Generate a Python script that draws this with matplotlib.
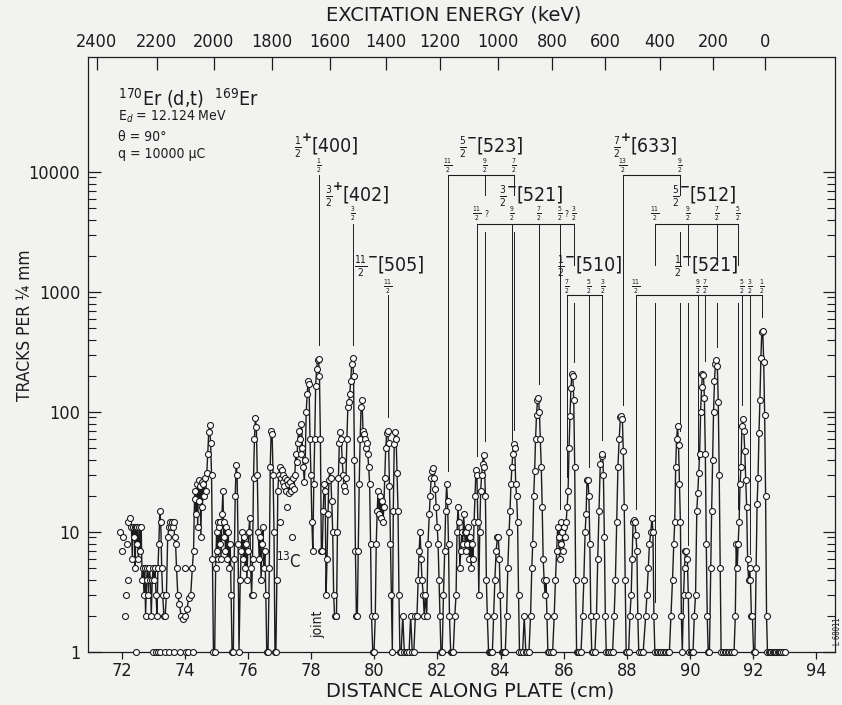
import numpy as np
import matplotlib
matplotlib.use("Agg")
import matplotlib.pyplot as plt
from matplotlib.ticker import FixedLocator, NullFormatter

plt.rcParams['font.family'] = ['DejaVu Sans']
plt.rcParams['font.stretch'] = 'condensed'
plt.rcParams['mathtext.fontset'] = 'dejavusans'

bg = '#f2f2f0'
ink = '#1c1c1c'

# spectrum: (distance cm, tracks per 1/4 mm), zero shown at 1
run_a = [(72.30, 11), (72.33, 6), (72.35, 11), (72.38, 9), (72.40, 11), (72.42, 5), (72.44, 11),
         (72.47, 8), (72.49, 11), (72.52, 6), (72.55, 11), (72.58, 7), (72.61, 11), (72.64, 4),
         (72.67, 5), (72.70, 3), (72.72, 5), (72.75, 2), (72.78, 4), (72.81, 5), (72.84, 3),
         (72.87, 5), (72.90, 4), (72.93, 2), (72.96, 4), (72.99, 5), (73.02, 4), (73.05, 5),
         (73.08, 3), (73.11, 2), (73.14, 5), (73.17, 8), (73.20, 15), (73.23, 12), (73.26, 5),
         (73.29, 3), (73.33, 2), (73.37, 2), (73.41, 3), (73.45, 9), (73.49, 11), (73.52, 12),
         (73.55, 11), (73.58, 12), (73.61, 11), (73.64, 12), (73.67, 9), (73.70, 8), (73.73, 5),
         (73.77, 3), (73.82, 2.5), (73.88, 2), (73.94, 1.9), (74.00, 2), (74.06, 2.3), (74.12, 2.8),
         (74.18, 3), (74.23, 5), (74.27, 7), (74.30, 19), (74.33, 22), (74.35, 14), (74.38, 25),
         (74.40, 11), (74.43, 27), (74.45, 18), (74.48, 24), (74.50, 9), (74.53, 26), (74.55, 16),
         (74.58, 25), (74.60, 20), (74.63, 28), (74.66, 22), (74.69, 31), (74.72, 45), (74.75, 68),
         (74.78, 78), (74.81, 55), (74.84, 30), (74.87, 6), (74.90, 1)]
run_b = [(74.94, 1), (74.97, 5), (75.00, 10), (75.02, 7), (75.04, 12), (75.06, 6), (75.08, 11),
         (75.10, 8), (75.12, 12), (75.14, 6), (75.17, 14), (75.20, 22), (75.23, 9), (75.25, 12),
         (75.28, 7), (75.31, 11), (75.34, 6), (75.37, 10), (75.40, 5), (75.43, 8), (75.46, 3),
         (75.49, 1), (75.53, 1), (75.56, 6), (75.59, 20), (75.62, 36), (75.65, 30), (75.68, 8),
         (75.71, 1), (75.75, 4), (75.78, 7), (75.81, 10), (75.84, 6), (75.87, 9), (75.90, 5),
         (75.93, 8), (75.96, 4), (75.99, 7), (76.02, 10), (76.05, 13), (76.08, 5), (76.11, 3),
         (76.14, 6), (76.17, 28), (76.20, 60), (76.23, 89), (76.26, 75), (76.29, 30), (76.32, 10),
         (76.35, 6), (76.38, 9), (76.41, 4), (76.44, 8), (76.47, 11), (76.50, 5), (76.53, 7),
         (76.56, 3), (76.59, 1), (76.63, 1), (76.67, 5), (76.70, 35), (76.73, 70), (76.76, 65),
         (76.79, 30), (76.82, 10), (76.85, 1), (76.88, 1)]
run_c = [(76.91, 4), (76.94, 22), (76.97, 30), (77.00, 35), (77.03, 28), (77.06, 33), (77.09, 26),
         (77.12, 30), (77.15, 24), (77.18, 28), (77.21, 22), (77.24, 27), (77.27, 25), (77.30, 21),
         (77.33, 26), (77.36, 22), (77.39, 24), (77.42, 28), (77.45, 23), (77.48, 30), (77.51, 45),
         (77.54, 38), (77.57, 55), (77.60, 70), (77.63, 60), (77.66, 45), (77.69, 80), (77.72, 50),
         (77.75, 35), (77.78, 26), (77.81, 40), (77.84, 100), (77.87, 140), (77.90, 180),
         (77.93, 170), (77.96, 60), (77.99, 30), (78.02, 12), (78.05, 7), (78.08, 25), (78.11, 60),
         (78.14, 165), (78.17, 230), (78.20, 270), (78.23, 277), (78.26, 200), (78.29, 60),
         (78.32, 7), (78.35, 7), (78.38, 15), (78.41, 25), (78.44, 22), (78.47, 3), (78.50, 6),
         (78.53, 14), (78.56, 27), (78.59, 33), (78.62, 28), (78.65, 18), (78.68, 10), (78.71, 3),
         (78.74, 2), (78.77, 2), (78.80, 2), (78.83, 10), (78.86, 28), (78.89, 55), (78.92, 68),
         (78.95, 60), (78.98, 40), (79.01, 30), (79.04, 24), (79.07, 22), (79.10, 28), (79.13, 60),
         (79.16, 110), (79.19, 120), (79.22, 140), (79.25, 180), (79.28, 250), (79.31, 280),
         (79.34, 200), (79.37, 40), (79.40, 7), (79.43, 2), (79.46, 2), (79.49, 7), (79.52, 25),
         (79.55, 60), (79.58, 110), (79.61, 125), (79.64, 70), (79.67, 65), (79.70, 60), (79.73, 50),
         (79.76, 55), (79.79, 45), (79.82, 35), (79.85, 25), (79.88, 8), (79.91, 2), (79.95, 1),
         (79.99, 1)]
run_d = [(80.03, 2), (80.06, 8), (80.09, 15), (80.12, 22), (80.15, 14), (80.18, 20), (80.21, 13),
         (80.24, 18), (80.27, 12), (80.30, 16), (80.33, 28), (80.36, 50), (80.39, 67), (80.42, 70),
         (80.45, 55), (80.48, 24), (80.51, 8), (80.54, 3), (80.57, 1), (80.60, 15), (80.63, 54),
         (80.66, 68), (80.69, 60), (80.72, 31), (80.75, 15), (80.78, 3), (80.81, 1), (80.85, 1),
         (80.90, 2), (80.95, 1), (81.00, 1), (81.05, 1), (81.10, 1), (81.15, 2), (81.20, 1),
         (81.25, 1), (81.30, 2), (81.35, 2), (81.39, 4), (81.42, 7), (81.45, 10), (81.48, 6),
         (81.51, 4), (81.55, 3), (81.58, 2), (81.62, 3), (81.66, 2), (81.70, 8), (81.74, 14),
         (81.77, 20), (81.80, 28), (81.84, 32), (81.87, 34), (81.90, 28), (81.93, 23), (81.96, 16),
         (81.99, 11), (82.02, 8), (82.05, 4), (82.08, 2), (82.11, 1), (82.15, 1), (82.19, 3),
         (82.23, 7), (82.26, 15), (82.29, 25), (82.32, 18), (82.35, 8), (82.38, 2), (82.42, 1),
         (82.46, 1), (82.50, 1), (82.55, 2), (82.59, 3), (82.62, 10), (82.65, 16), (82.68, 12),
         (82.71, 5), (82.74, 7), (82.77, 10), (82.80, 8), (82.83, 14), (82.86, 10), (82.89, 7),
         (82.92, 10), (82.95, 8), (82.98, 11), (83.01, 6), (83.04, 9), (83.07, 5), (83.10, 8),
         (83.13, 6), (83.16, 12), (83.19, 20), (83.22, 33), (83.25, 30), (83.28, 12), (83.31, 3),
         (83.34, 10), (83.37, 22), (83.40, 30), (83.43, 37), (83.46, 44), (83.49, 35), (83.52, 20),
         (83.55, 4), (83.58, 2), (83.62, 1), (83.66, 1), (83.70, 1), (83.74, 1), (83.78, 2),
         (83.82, 4), (83.86, 7), (83.90, 9), (83.93, 9), (83.96, 6), (83.99, 3)]
run_e = [(84.03, 1), (84.07, 1), (84.11, 1), (84.15, 1), (84.19, 2), (84.23, 5), (84.27, 10),
         (84.30, 15), (84.33, 25), (84.36, 35), (84.39, 45), (84.42, 54), (84.45, 50), (84.48, 25),
         (84.51, 20), (84.54, 12), (84.57, 3), (84.60, 1), (84.65, 1), (84.70, 1), (84.75, 2),
         (84.80, 1), (84.85, 1), (84.90, 1), (84.95, 2), (84.99, 5), (85.02, 8), (85.05, 20),
         (85.08, 32), (85.11, 60), (85.14, 95), (85.17, 125), (85.20, 131), (85.23, 100),
         (85.26, 60), (85.29, 35), (85.32, 16), (85.35, 6), (85.38, 4), (85.41, 3), (85.44, 4),
         (85.47, 2), (85.50, 1), (85.55, 1), (85.60, 1), (85.65, 1), (85.70, 2), (85.74, 4),
         (85.78, 7), (85.81, 11), (85.84, 9), (85.87, 6), (85.90, 8), (85.93, 12), (85.96, 10),
         (85.99, 7), (86.02, 11), (86.05, 9), (86.08, 12), (86.11, 16), (86.14, 22), (86.17, 50),
         (86.20, 93), (86.23, 157), (86.26, 207), (86.29, 200), (86.32, 125), (86.35, 35),
         (86.38, 4), (86.41, 1), (86.45, 1), (86.50, 1), (86.55, 1), (86.60, 2), (86.64, 4),
         (86.68, 10), (86.71, 14), (86.74, 27), (86.77, 27), (86.80, 20), (86.83, 8), (86.86, 2),
         (86.89, 1), (86.94, 1), (86.99, 1), (87.04, 2), (87.08, 6), (87.12, 15), (87.16, 37),
         (87.20, 43), (87.23, 45), (87.26, 30), (87.29, 9), (87.32, 2), (87.35, 1), (87.40, 1),
         (87.45, 1), (87.50, 1), (87.55, 1), (87.60, 2), (87.64, 4), (87.68, 12), (87.72, 35),
         (87.76, 60), (87.80, 91), (87.83, 92), (87.86, 88), (87.89, 47), (87.92, 16), (87.95, 4),
         (87.98, 1)]
run_f = [(88.02, 1), (88.06, 1), (88.10, 2), (88.14, 3), (88.17, 6), (88.20, 12), (88.23, 12.5),
         (88.26, 12), (88.29, 9.5), (88.32, 7), (88.35, 2), (88.38, 1), (88.45, 1), (88.52, 1),
         (88.60, 2), (88.64, 3), (88.68, 5), (88.72, 8), (88.76, 10), (88.80, 13), (88.83, 10),
         (88.86, 2), (88.89, 1), (88.95, 1), (89.00, 1), (89.05, 1), (89.10, 1), (89.15, 1),
         (89.20, 1), (89.25, 1), (89.30, 1), (89.35, 1), (89.40, 2), (89.45, 4), (89.49, 8),
         (89.52, 12), (89.55, 35), (89.58, 60), (89.61, 76), (89.64, 53), (89.67, 25), (89.70, 12),
         (89.73, 2), (89.76, 1), (89.80, 3), (89.83, 5), (89.86, 7), (89.89, 7), (89.92, 6),
         (89.95, 3), (89.98, 1), (90.02, 1), (90.06, 1), (90.10, 1), (90.14, 2), (90.18, 3),
         (90.22, 15), (90.25, 21), (90.28, 31), (90.31, 45), (90.34, 100), (90.37, 160),
         (90.40, 207), (90.43, 205), (90.46, 130), (90.49, 45), (90.52, 8), (90.55, 2), (90.58, 1),
         (90.62, 1), (90.66, 5), (90.69, 15), (90.72, 40), (90.75, 100), (90.78, 182), (90.81, 250),
         (90.84, 270), (90.87, 240), (90.90, 120), (90.93, 30), (90.96, 5), (90.99, 1), (91.05, 1),
         (91.10, 1), (91.15, 1), (91.20, 1), (91.25, 1), (91.30, 1), (91.35, 1), (91.40, 1),
         (91.44, 2), (91.47, 8), (91.50, 5), (91.53, 8), (91.56, 12), (91.59, 25), (91.62, 35),
         (91.65, 76), (91.68, 88), (91.71, 70), (91.74, 47), (91.77, 27), (91.80, 16), (91.83, 6),
         (91.86, 4), (91.89, 5), (91.92, 4), (91.95, 2), (91.98, 2), (92.02, 1), (92.06, 1),
         (92.10, 5), (92.13, 17), (92.16, 28), (92.19, 67), (92.22, 125), (92.25, 280),
         (92.28, 465), (92.31, 475), (92.34, 260), (92.37, 95), (92.40, 20), (92.43, 2), (92.46, 1),
         (92.50, 1), (92.54, 1), (92.58, 1), (92.62, 1), (92.66, 1), (92.70, 1), (92.74, 1),
         (92.78, 1), (92.82, 1), (92.86, 1), (92.90, 1), (92.95, 1), (93.00, 1)]

# isolated readings not joined by the curve
loose = [(71.94, 10), (71.99, 7), (72.02, 9), (72.10, 2), (72.13, 3), (72.15, 8), (72.20, 12),
         (72.25, 13), (72.20, 4), (72.44, 1), (73.00, 1), (73.08, 1), (73.13, 1), (73.20, 1),
         (73.35, 1), (73.50, 1), (73.65, 1), (73.85, 1), (74.00, 5), (74.03, 1), (74.10, 1),
         (74.25, 1), (76.14, 3), (77.01, 12), (77.22, 16), (77.38, 9)]

# upper scale: excitation energy (keV) and where it falls on the plate (cm)
energy_keV = [2400, 2200, 2000, 1800, 1600, 1400, 1200, 1000, 800, 600, 400, 200, 0]
energy_cm = [71.20, 73.10, 74.91, 76.75, 78.59, 80.36, 82.08, 83.92, 85.63, 87.31, 89.04, 90.74, 92.38]

# Nilsson band assignments
row_label = [16600, 6450, 1680]
row_frac = [11300, 4450, 1110]
row_bar = [9350, 3690, 935]
row_resume = [None, 3160, 815]

band_name = ['[400]', '[523]', '[633]', '[402]', '[521]', '[512]', '[505]', '[510]', '[521]']
band_head = ['1/2+', '5/2-', '7/2+', '3/2+', '3/2-', '5/2-', '11/2-', '1/2-', '1/2-']
band_row = [0, 0, 0, 1, 1, 1, 2, 2, 2]
band_anchor = [78.02, 83.25, 88.13, 79.00, 84.51, 90.00, 80.11, 86.36, 90.06]
band_levels = [[78.24], [82.32, 83.51, 84.44], [87.89, 89.69], [79.31],
               [83.24, 84.35, 85.22, 85.88, 86.34], [88.89, 89.95, 90.87, 91.51], [80.44],
               [86.09, 86.81, 87.23], [88.29, 90.25, 90.48, 91.64, 91.90, 92.29]]
band_spins = [['1/2'], ['11/2', '9/2', '7/2'], ['13/2', '9/2'], ['3/2'],
              ['11/2', '9/2', '7/2', '5/2', '3/2'], ['11/2', '9/2', '7/2', '5/2'], ['11/2'],
              ['7/2', '5/2', '3/2'], ['11/2', '9/2', '7/2', '5/2', '3/2', '1/2']]
doubtful = [83.55, 86.10]


def frac(s):
    n, d = s.split('/')
    return r'$\frac{%s}{%s}$' % (n, d)


spectrum = run_a + run_b + run_c + run_d + run_e + run_f
pos = np.array([p for p, t in spectrum])
trk = np.array([t for p, t in spectrum])

fig = plt.figure(figsize=(8.42, 7.05), dpi=100, facecolor=bg)
ax = fig.add_axes([0.1051, 0.0752, 0.8866, 0.8440], facecolor=bg)
ax.set_yscale('log')
ax.set_xlim(70.94, 94.6)
ax.set_ylim(1, 90800)

ax.plot(pos, trk, '-o', color=ink, lw=1.0, ms=4.3, mfc='white', mec=ink, mew=0.8,
        clip_on=False, zorder=3)
ax.plot([p for p, t in loose], [t for p, t in loose], 'o', ms=4.3, mfc='white', mec=ink,
        mew=0.8, clip_on=False, zorder=3)

for sp in ax.spines.values():
    sp.set_linewidth(0.9)
    sp.set_color(ink)

ax.set_xticks(range(72, 95, 2))
ax.tick_params(axis='x', which='major', direction='out', length=5, width=0.9,
               labelsize=13, pad=2, colors=ink)
ax.set_yticks([1, 10, 100, 1000, 10000], labels=['1', '10', '100', '1000', '10000'])
ax.yaxis.set_minor_locator(FixedLocator([m * 10 ** d for d in range(4) for m in range(2, 10)]))
ax.yaxis.set_minor_formatter(NullFormatter())
ax.tick_params(axis='y', which='major', direction='in', length=9, width=0.9, right=True,
               labelsize=13, pad=6, colors=ink)
ax.tick_params(axis='y', which='minor', direction='in', length=5.5, width=0.8, right=True,
               colors=ink)

top = ax.twiny()
top.set_xlim(ax.get_xlim())
top.set_xticks(energy_cm, labels=[str(e) for e in energy_keV])
top.tick_params(direction='in', length=9, width=0.9, labelsize=13, pad=4, colors=ink)
for sp in top.spines.values():
    sp.set_visible(False)

fig.text(0.539, 0.979, 'EXCITATION ENERGY (keV)', ha='center', va='center', fontsize=14,
         fontstretch='normal', color=ink)
fig.text(0.558, 0.020, 'DISTANCE ALONG PLATE (cm)', ha='center', va='center', fontsize=14,
         fontstretch='normal', color=ink)
fig.text(0.030, 0.539, 'TRACKS PER \u00bc mm', rotation=90, ha='center', va='center',
         fontsize=12.5, color=ink)
fig.text(0.995, 0.105, 'L 68011', rotation=90, ha='center', va='center', fontsize=5.5, color=ink)

ax.text(0.0395, 0.931, r'$^{170}$Er (d,t)  $^{169}$Er', transform=ax.transAxes,
        fontsize=14, va='center', color=ink)
ax.text(0.0395, 0.899, r'E$_d$ = 12.124 MeV', transform=ax.transAxes, fontsize=10,
        va='center', color=ink)
ax.text(0.0395, 0.866, '\u03b8 = 90\u00b0', transform=ax.transAxes, fontsize=10,
        va='center', color=ink)
ax.text(0.0395, 0.837, 'q = 10000 \u03bcC', transform=ax.transAxes, fontsize=10,
        va='center', color=ink)
ax.text(77.29, 5.6, r'$^{13}$C', ha='center', va='center', fontsize=12, color=ink)
ax.text(78.21, 1.7, 'joint', rotation=90, ha='center', va='center', fontsize=10, color=ink)

# band labels and level lines
spans = [(band_row[i], min(band_levels[i]), max(band_levels[i]))
         for i in range(len(band_name)) if len(band_levels[i]) > 1]
for name, hd, row, anchor, levels, spins in zip(band_name, band_head, band_row, band_anchor,
                                                band_levels, band_spins):
    sign = '+' if hd[-1] == '+' else '\u2212'
    ax.annotate(frac(hd[:-1]), (anchor, row_label[row]), xytext=(-7, -1),
                textcoords='offset points', ha='right', va='center', fontsize=10.5, color=ink)
    ax.annotate(sign, (anchor, row_label[row]), xytext=(0, 1), textcoords='offset points',
                ha='right', va='bottom', fontsize=9.5, fontweight='bold', color=ink)
    ax.text(anchor, row_label[row], name, ha='left', va='center', fontsize=14, color=ink)
    for x, s in zip(levels, spins):
        ax.text(x, row_frac[row], frac(s), ha='center', va='center', fontsize=7, color=ink)
    if len(levels) > 1:
        ax.plot([levels[0], levels[-1]], [row_bar[row]] * 2, color=ink, lw=0.8)
    for x in levels:
        peak = trk[np.abs(pos - x) < 0.06].max()
        y0 = row_bar[row]
        for r, lo, hi in spans:
            if r > row and lo - 0.05 <= x <= hi + 0.05:
                ax.plot([x, x], [y0, row_label[r]], color=ink, lw=0.7)
                y0 = row_resume[r]
        ax.plot([x, x], [y0, peak * 1.3], color=ink, lw=0.7)
for x in doubtful:
    ax.text(x, row_frac[1], '?', ha='center', va='center', fontsize=6, color=ink)

fig.savefig('out.png', dpi=100, facecolor=bg)
